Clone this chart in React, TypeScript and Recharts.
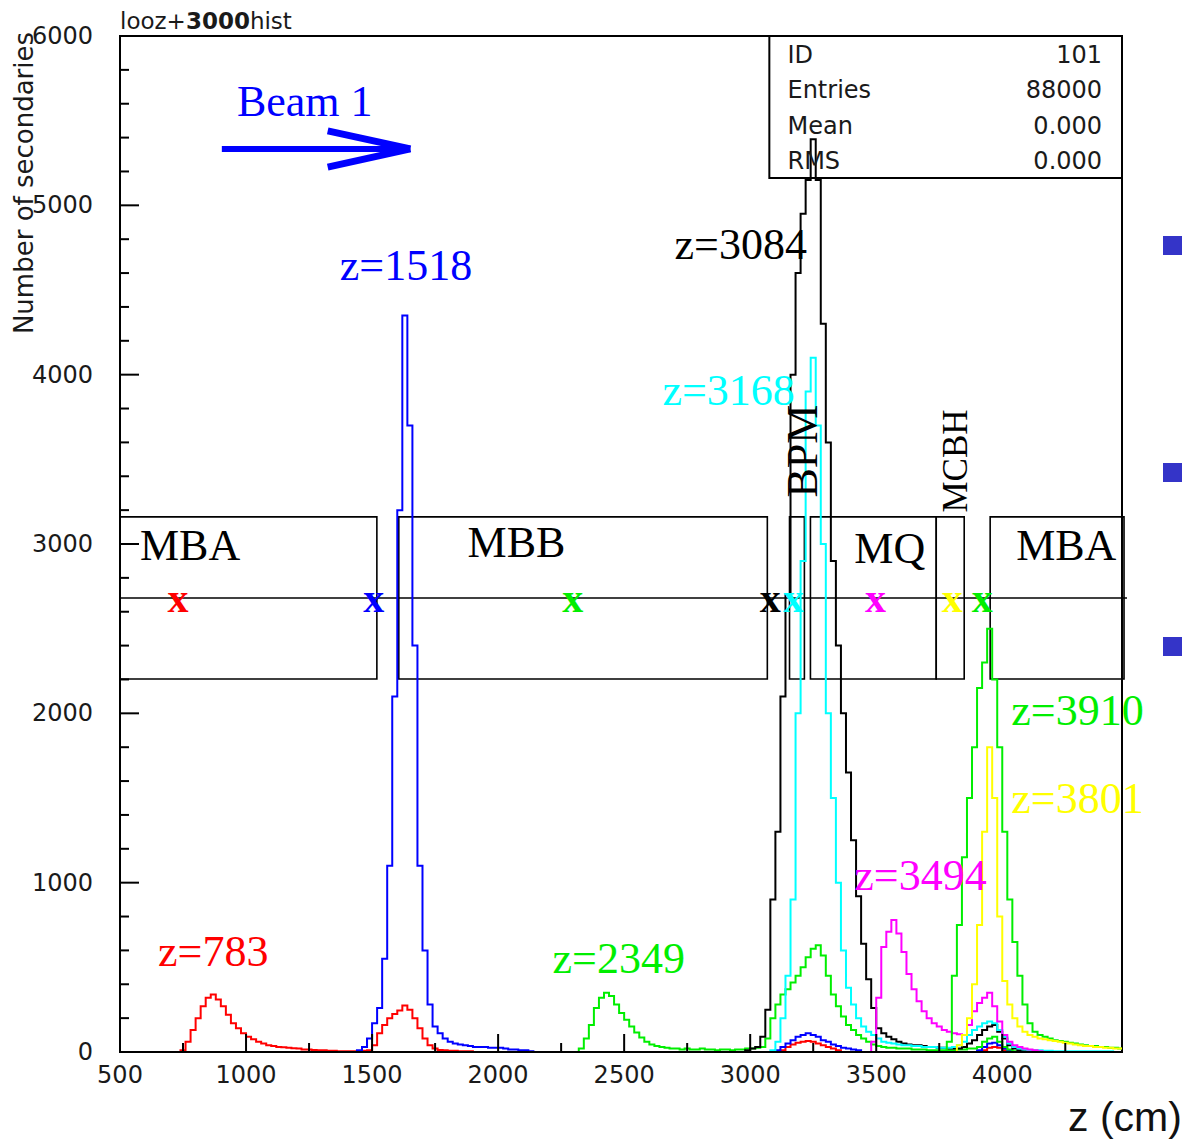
import React from "react";
import {
  ComposedChart,
  Line,
  XAxis,
  YAxis,
  ReferenceArea,
  ReferenceLine,
  ReferenceDot,
} from "recharts";

// histogram bins: [z (cm) at bin start, number of secondaries], 20 cm bins
const red783: [number, number][] = [
  [500, 0], [740, 10], [760, 60], [780, 130], [800, 200], [820, 270], [840, 320], [860, 340], [880, 310],
  [900, 270], [920, 220], [940, 170], [960, 140], [980, 110], [1000, 90], [1020, 75], [1040, 60], [1060, 50],
  [1080, 40], [1100, 35], [1120, 30], [1140, 28], [1160, 25], [1180, 22], [1200, 20], [1220, 15], [1240, 15],
  [1260, 12], [1280, 10], [1300, 10], [1320, 8], [1340, 8], [1360, 5], [1380, 5], [1400, 5], [1420, 5],
  [1440, 5], [1460, 8], [1480, 10], [1500, 40], [1520, 110], [1540, 160], [1560, 200], [1580, 225], [1600, 245],
  [1620, 275], [1640, 250], [1660, 200], [1680, 140], [1700, 80], [1720, 40], [1740, 20], [1760, 12], [1780, 10],
  [1800, 8], [1820, 8], [1840, 5], [1860, 5], [1880, 5], [1900, 0], [3120, 10], [3140, 30], [3160, 45],
  [3180, 55], [3200, 60], [3220, 65], [3240, 60], [3260, 50], [3280, 40], [3300, 30], [3320, 20], [3340, 10],
  [3360, 0], [3920, 10], [3940, 25], [3960, 30], [3980, 25], [4000, 10], [4020, 0], [4475, 0],
];

const blue1518: [number, number][] = [
  [500, 0], [1440, 10], [1460, 30], [1480, 80], [1500, 170], [1520, 260], [1540, 550], [1560, 1100], [1580, 2100],
  [1600, 3200], [1620, 4350], [1640, 3700], [1660, 2400], [1680, 1100], [1700, 600], [1720, 280], [1740, 150],
  [1760, 110], [1780, 80], [1800, 60], [1820, 50], [1840, 45], [1860, 40], [1880, 35], [1900, 30], [1920, 30],
  [1940, 30], [1960, 25], [1980, 25], [2000, 25], [2020, 20], [2040, 15], [2060, 15], [2080, 10], [2100, 10],
  [2120, 5], [2140, 0], [3100, 10], [3120, 30], [3140, 50], [3160, 70], [3180, 90], [3200, 100], [3220, 110],
  [3240, 100], [3260, 90], [3280, 70], [3300, 60], [3320, 45], [3340, 35], [3360, 25], [3380, 20], [3400, 15],
  [3420, 10], [3440, 0], [3900, 10], [3920, 30], [3940, 50], [3960, 55], [3980, 40], [4000, 20], [4020, 10],
  [4040, 0], [4475, 0],
];

const green2349: [number, number][] = [
  [500, 0], [2320, 20], [2340, 80], [2360, 160], [2380, 260], [2400, 320], [2420, 350], [2440, 330], [2460, 280],
  [2480, 230], [2500, 190], [2520, 150], [2540, 115], [2560, 85], [2580, 60], [2600, 45], [2620, 35], [2640, 30],
  [2660, 25], [2680, 20], [2700, 20], [2720, 15], [2740, 20], [2760, 15], [2780, 15], [2800, 20], [2820, 15],
  [2840, 15], [2860, 10], [2880, 15], [2900, 15], [2920, 10], [2940, 15], [2960, 15], [2980, 20], [3000, 20],
  [3020, 25], [3040, 30], [3060, 80], [3080, 200], [3100, 280], [3120, 340], [3140, 370], [3160, 410], [3180, 450],
  [3200, 500], [3220, 560], [3240, 610], [3260, 630], [3280, 570], [3300, 450], [3320, 340], [3340, 270],
  [3360, 210], [3380, 160], [3400, 130], [3420, 100], [3440, 80], [3460, 60], [3480, 45], [3500, 35], [3520, 30],
  [3540, 25], [3560, 25], [3580, 20], [3600, 20], [3620, 20], [3640, 15], [3660, 15], [3680, 15], [3700, 10],
  [3720, 10], [3740, 10], [3760, 10], [3780, 10], [3800, 10], [3820, 15], [3840, 15], [3860, 20], [3880, 20],
  [3900, 30], [3920, 60], [3940, 80], [3960, 90], [3980, 60], [4000, 30], [4020, 15], [4040, 5], [4060, 0],
  [4475, 0],
];

const black3084: [number, number][] = [
  [500, 0], [2980, 10], [3000, 20], [3020, 30], [3040, 90], [3060, 250], [3080, 900], [3100, 1300], [3120, 2100],
  [3140, 2700], [3160, 4000], [3180, 4600], [3200, 4950], [3220, 5150], [3240, 5390], [3260, 5150], [3280, 4300],
  [3300, 3600], [3320, 2900], [3340, 2400], [3360, 2000], [3380, 1650], [3400, 1250], [3420, 920], [3440, 640],
  [3460, 430], [3480, 260], [3500, 140], [3520, 110], [3540, 90], [3560, 75], [3580, 60], [3600, 50], [3620, 45],
  [3640, 40], [3660, 40], [3680, 35], [3700, 30], [3720, 30], [3740, 25], [3760, 25], [3780, 20], [3800, 20],
  [3820, 20], [3840, 30], [3860, 50], [3880, 70], [3900, 100], [3920, 130], [3940, 150], [3960, 160], [3980, 120],
  [4000, 80], [4020, 40], [4040, 20], [4060, 10], [4080, 5], [4100, 0], [4475, 0],
];

const cyan3168: [number, number][] = [
  [500, 0], [3080, 10], [3100, 60], [3120, 200], [3140, 450], [3160, 900], [3180, 2000], [3200, 2900], [3220, 3900],
  [3240, 4100], [3260, 3700], [3280, 3000], [3300, 2000], [3320, 1500], [3340, 1000], [3360, 600], [3380, 380],
  [3400, 280], [3420, 200], [3440, 150], [3460, 120], [3480, 100], [3500, 80], [3520, 60], [3540, 55], [3560, 50],
  [3580, 45], [3600, 40], [3620, 40], [3640, 35], [3660, 35], [3680, 30], [3700, 30], [3720, 30], [3740, 25],
  [3760, 25], [3780, 25], [3800, 30], [3820, 40], [3840, 60], [3860, 100], [3880, 130], [3900, 150], [3920, 170],
  [3940, 180], [3960, 170], [3980, 130], [4000, 90], [4020, 50], [4040, 30], [4060, 20], [4080, 15], [4100, 10],
  [4120, 10], [4160, 8], [4200, 5], [4300, 5], [4440, 0], [4475, 0],
];

const magenta3494: [number, number][] = [
  [500, 0], [3480, 60], [3500, 320], [3520, 620], [3540, 710], [3560, 780], [3580, 700], [3600, 590], [3620, 460],
  [3640, 370], [3660, 300], [3680, 240], [3700, 200], [3720, 170], [3740, 150], [3760, 130], [3780, 120],
  [3800, 110], [3820, 105], [3840, 100], [3860, 160], [3880, 240], [3900, 290], [3920, 320], [3940, 350],
  [3960, 270], [3980, 180], [4000, 100], [4020, 60], [4040, 40], [4060, 30], [4080, 20], [4100, 15], [4120, 10],
  [4140, 5], [4160, 0], [4475, 0],
];

const green3910: [number, number][] = [
  [500, 0], [3780, 60], [3800, 450], [3820, 750], [3840, 1150], [3860, 1500], [3880, 1800], [3900, 2150],
  [3920, 2300], [3940, 2500], [3960, 2200], [3980, 1800], [4000, 1300], [4020, 900], [4040, 650], [4060, 450],
  [4080, 280], [4100, 170], [4120, 120], [4140, 100], [4160, 90], [4180, 80], [4200, 70], [4220, 65], [4240, 60],
  [4260, 55], [4280, 50], [4300, 45], [4320, 40], [4340, 35], [4360, 35], [4380, 30], [4400, 30], [4420, 25],
  [4440, 25], [4460, 20], [4475, 20],
];

const yellow3801: [number, number][] = [
  [500, 0], [3820, 40], [3840, 100], [3860, 200], [3880, 400], [3900, 750], [3920, 1300], [3940, 1800],
  [3960, 1500], [3980, 800], [4000, 420], [4020, 280], [4040, 200], [4060, 150], [4080, 120], [4100, 100],
  [4120, 90], [4140, 80], [4160, 75], [4180, 70], [4200, 65], [4220, 60], [4240, 55], [4260, 50], [4280, 45],
  [4300, 40], [4320, 35], [4340, 35], [4360, 30], [4380, 30], [4400, 25], [4420, 25], [4440, 20], [4460, 20],
  [4475, 20],
];

const series = [
  { name: "z=783", color: "#ff0000", bins: red783 },
  { name: "z=1518", color: "#0000ff", bins: blue1518 },
  { name: "z=2349", color: "#00ee00", bins: green2349 },
  { name: "z=3084", color: "#000000", bins: black3084 },
  { name: "z=3168", color: "#00ffff", bins: cyan3168 },
  { name: "z=3494", color: "#ff00ff", bins: magenta3494 },
  { name: "z=3910", color: "#00ee00", bins: green3910 },
  { name: "z=3801", color: "#ffff00", bins: yellow3801 },
];

const xTicks = [500, 750, 1000, 1250, 1500, 1750, 2000, 2250, 2500, 2750, 3000, 3250, 3500, 3750, 4000, 4250];
const yTicks = [
  0, 200, 400, 600, 800, 1000, 1200, 1400, 1600, 1800, 2000, 2200, 2400, 2600, 2800, 3000, 3200, 3400, 3600,
  3800, 4000, 4200, 4400, 4600, 4800, 5000, 5200, 5400, 5600, 5800, 6000,
];

// magnet elements drawn along the beam line
const magnets = [
  { x1: 500, x2: 1519 },
  { x1: 1606, x2: 3068 },
  { x1: 3156, x2: 3215 },
  { x1: 3239, x2: 3738 },
  { x1: 3738, x2: 3849 },
  { x1: 3952, x2: 4483 },
];
const magnetBottom = 2203;
const magnetTop = 3160;
const beamLine = 2681;

// source positions marked with "x"
const sourceMarks = [
  { z: 730, color: "#ff0000" },
  { z: 1507, color: "#0000ff" },
  { z: 2296, color: "#00ee00" },
  { z: 3080, color: "#000000" },
  { z: 3172, color: "#00ffff" },
  { z: 3497, color: "#ff00ff" },
  { z: 3802, color: "#ffff00" },
  { z: 3921, color: "#00ee00" },
];

const notes = [
  { text: "z=1518", z: 1372, n: 4642, color: "#0000ff" },
  { text: "z=3084", z: 2700, n: 4770, color: "#000000" },
  { text: "z=3168", z: 2652, n: 3905, color: "#00ffff" },
  { text: "z=783", z: 651, n: 591, color: "#ff0000" },
  { text: "z=2349", z: 2216, n: 555, color: "#00ee00" },
  { text: "z=3494", z: 3413, n: 1045, color: "#ff00ff" },
  { text: "z=3910", z: 4036, n: 2014, color: "#00ee00" },
  { text: "z=3801", z: 4036, n: 1500, color: "#ffff00" },
  { text: "Beam 1", z: 964, n: 5616, color: "#0000ff" },
  { text: "MBA", z: 579, n: 2994, color: "#000000" },
  { text: "MBB", z: 1879, n: 3006, color: "#000000" },
  { text: "MQ", z: 3413, n: 2976, color: "#000000" },
  { text: "MBA", z: 4055, n: 2994, color: "#000000" },
];

const statRows = [
  { label: "ID", value: "101", n: 5888 },
  { label: "Entries", value: "88000", n: 5681 },
  { label: "Mean", value: "0.000", n: 5469 },
  { label: "RMS", value: "0.000", n: 5262 },
];

const SERIF = "'Liberation Serif', 'Times New Roman', serif";
const SANS = "'DejaVu Sans', sans-serif";

const XTick = (props: any) => {
  const { x, y, payload } = props;
  const major = payload.value % 500 === 0;
  return (
    <g>
      <line x1={x} x2={x} y1={y} y2={y - (major ? 18 : 9)} stroke="#000" strokeWidth={2} />
      {major && (
        <text x={x} y={y + 23} textAnchor="middle" dominantBaseline="central" fontFamily={SANS} fontSize={24} fill="#1a1a1a">
          {payload.value}
        </text>
      )}
    </g>
  );
};

const YTick = (props: any) => {
  const { x, y, payload } = props;
  const major = payload.value % 1000 === 0;
  return (
    <g>
      <line x1={x} x2={x + (major ? 19 : 9)} y1={y} y2={y} stroke="#000" strokeWidth={2} />
      {major && (
        <text x={x - 27} y={y} textAnchor="end" dominantBaseline="central" fontFamily={SANS} fontSize={24} fill="#1a1a1a">
          {payload.value}
        </text>
      )}
    </g>
  );
};

export default function App() {
  return (
    <div style={{ position: "absolute", left: 0, top: 0, width: 1188, height: 1139, background: "#fff" }}>
      <ComposedChart width={1188} height={1139} margin={{ top: 36, right: 66, bottom: 86, left: 119 }}>
        <XAxis
          dataKey="z"
          type="number"
          domain={[500, 4475]}
          ticks={xTicks}
          height={1}
          tickSize={0}
          tickMargin={0}
          tickLine={false}
          axisLine={{ stroke: "#000", strokeWidth: 2 }}
          tick={XTick}
          interval={0}
        />
        <YAxis
          type="number"
          domain={[0, 6000]}
          ticks={yTicks}
          width={1}
          tickSize={0}
          tickMargin={0}
          tickLine={false}
          axisLine={{ stroke: "#000", strokeWidth: 2 }}
          tick={YTick}
          interval={0}
        />

        {/* plot frame */}
        <ReferenceArea x1={500} x2={4475} y1={0} y2={6000} stroke="#000" strokeWidth={2} fill="none" fillOpacity={0} />

        {/* stats box */}
        <ReferenceArea x1={3076} x2={4475} y1={5161} y2={6000} stroke="#000" strokeWidth={2} fill="none" fillOpacity={0} />
        {statRows.map((r) => (
          <ReferenceDot
            key={"l" + r.label}
            x={3148}
            y={r.n}
            ifOverflow="visible"
            shape={(p: any) => (
              <text x={p.cx} y={p.cy} fontFamily={SANS} fontSize={24} fill="#1a1a1a" dominantBaseline="central">
                {r.label}
              </text>
            )}
          />
        ))}
        {statRows.map((r) => (
          <ReferenceDot
            key={"v" + r.label}
            x={4396}
            y={r.n}
            ifOverflow="visible"
            shape={(p: any) => (
              <text x={p.cx} y={p.cy} fontFamily={SANS} fontSize={24} fill="#1a1a1a" textAnchor="end" dominantBaseline="central">
                {r.value}
              </text>
            )}
          />
        ))}

        {/* magnets and beam line */}
        {magnets.map((m) => (
          <ReferenceArea
            key={m.x1}
            x1={m.x1}
            x2={m.x2}
            y1={magnetBottom}
            y2={magnetTop}
            ifOverflow="visible"
            stroke="#000"
            strokeWidth={1.6}
            fill="none"
            fillOpacity={0}
          />
        ))}
        <ReferenceLine
          segment={[{ x: 500, y: beamLine }, { x: 4495, y: beamLine }]}
          ifOverflow="visible"
          stroke="#000"
          strokeWidth={1.6}
        />

        {/* beam arrow */}
        <ReferenceLine segment={[{ x: 904, y: 5333 }, { x: 1640, y: 5333 }]} stroke="#0000ff" strokeWidth={6} />
        <ReferenceLine segment={[{ x: 1324, y: 5440 }, { x: 1652, y: 5333 }]} stroke="#0000ff" strokeWidth={7} />
        <ReferenceLine segment={[{ x: 1324, y: 5226 }, { x: 1652, y: 5333 }]} stroke="#0000ff" strokeWidth={7} />

        {notes.map((t) => (
          <ReferenceDot
            key={t.text + t.z}
            x={t.z}
            y={t.n}
            ifOverflow="visible"
            shape={(p: any) => (
              <text x={p.cx} y={p.cy} fontFamily={SERIF} fontSize={44} fill={t.color} dominantBaseline="central">
                {t.text}
              </text>
            )}
          />
        ))}
        <ReferenceDot
          x={3207}
          y={3549}
          shape={(p: any) => (
            <text
              x={p.cx}
              y={p.cy}
              fontFamily={SERIF}
              fontSize={44}
              fill="#000"
              textAnchor="middle"
              dominantBaseline="central"
              transform={`rotate(-90 ${p.cx} ${p.cy})`}
            >
              BPM
            </text>
          )}
        />
        <ReferenceDot
          x={3814}
          y={3490}
          shape={(p: any) => (
            <text
              x={p.cx}
              y={p.cy}
              fontFamily={SERIF}
              fontSize={35}
              fill="#000"
              textAnchor="middle"
              dominantBaseline="central"
              transform={`rotate(-90 ${p.cx} ${p.cy})`}
            >
              MCBH
            </text>
          )}
        />

        {series.map((s) => (
          <Line
            key={s.name}
            data={s.bins.map(([z, n]) => ({ z, n }))}
            dataKey="n"
            type="stepAfter"
            stroke={s.color}
            strokeWidth={2}
            dot={false}
            isAnimationActive={false}
          />
        ))}

        {sourceMarks.map((m) => (
          <ReferenceDot
            key={"x" + m.z}
            x={m.z}
            y={beamLine}
            shape={(p: any) => (
              <text
                x={p.cx}
                y={p.cy}
                fontFamily={SERIF}
                fontSize={42}
                fontWeight="bold"
                fill={m.color}
                textAnchor="middle"
                dominantBaseline="central"
              >
                x
              </text>
            )}
          />
        ))}
      </ComposedChart>

      <svg width={1188} height={1139} style={{ position: "absolute", left: 0, top: 0, pointerEvents: "none" }}>
        <text x={120} y={29} fontFamily={SANS} fontSize={23} fill="#1a1a1a">
          looz+<tspan fontWeight="bold">3000</tspan>hist
        </text>
        <text
          x={33}
          y={183}
          fontFamily={SANS}
          fontSize={26}
          fill="#1a1a1a"
          textAnchor="middle"
          transform="rotate(-90 33 183)"
        >
          Number of secondaries
        </text>
        <text x={1068} y={1131} fontFamily="'Liberation Sans', Arial, sans-serif" fontSize={41} fill="#111">
          z (cm)
        </text>
        <rect x={1163} y={236} width={19} height={19} fill="#3434c8" />
        <rect x={1163} y={463} width={19} height={19} fill="#3434c8" />
        <rect x={1163} y={637} width={19} height={19} fill="#3434c8" />
      </svg>
    </div>
  );
}
